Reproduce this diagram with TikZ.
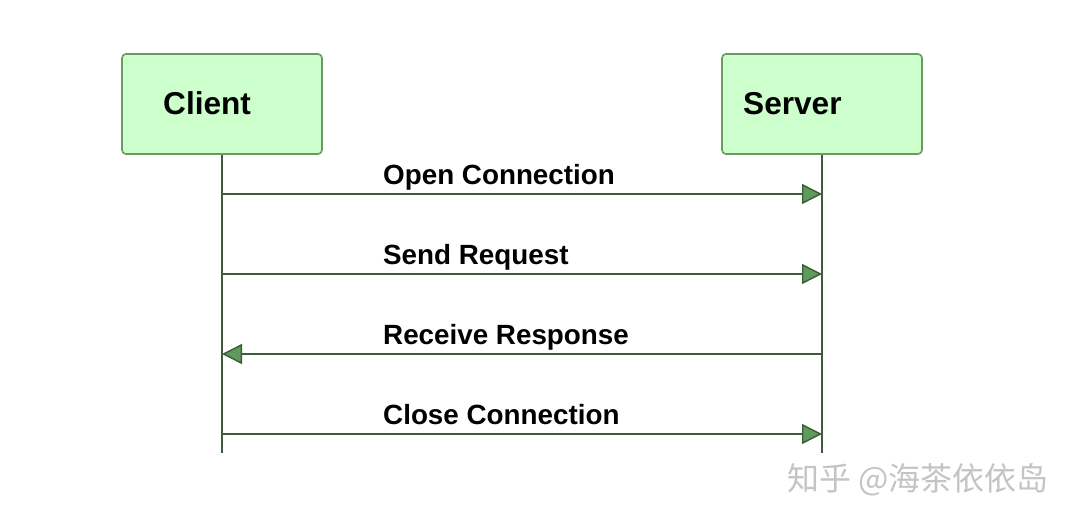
\documentclass[tikz,border=0pt]{standalone}
\usepackage{fontspec}
\setmainfont{Liberation Sans}
\newfontfamily\cjkfont{Noto Sans CJK SC}
\usetikzlibrary{arrows.meta}
\definecolor{boxfill}{HTML}{CCFFCC}
\definecolor{boxline}{HTML}{6A9A62}
\definecolor{lifeline}{HTML}{3B5E38}
\definecolor{tipfill}{HTML}{5E9A5A}
\definecolor{wmgray}{HTML}{C4C4C4}
\tikzset{
  actor/.style={draw=boxline, fill=boxfill, line width=1.6pt, rounded corners=4pt,
    minimum width=200pt, minimum height=100pt, inner sep=0pt},
  actorlabel/.style={font=\bfseries\fontsize{31.6}{32}\selectfont, anchor=base west, inner sep=0pt},
  lline/.style={draw=lifeline, line width=2pt},
  msg/.style={draw=lifeline, line width=1.8pt,
    -{Triangle[length=20pt,width=20pt,fill=tipfill,line width=1.4pt]}},
  msglabel/.style={font=\bfseries\fontsize{27.8}{28}\selectfont, anchor=base west, inner sep=0pt},
}
\begin{document}
\begin{tikzpicture}[x=1pt,y=-1pt]
\useasboundingbox[fill=white] (0,0) rectangle (1076,522);
% actors
\node[actor] (client) at (222,104) {};
\node[actor] (server) at (822,104) {};
\node[actorlabel] (clientlabel) at (163,114) {Client};
\node[actorlabel] (serverlabel) at (743,114) {Server};
% lifeline points
\coordinate (cend) at (222,453);
\coordinate (send) at (822,453);
\coordinate (c1) at (222,194); \coordinate (s1) at (822,194);
\coordinate (c2) at (222,274); \coordinate (s2) at (822,274);
\coordinate (c3) at (222,354); \coordinate (s3) at (822,354);
\coordinate (c4) at (222,434); \coordinate (s4) at (822,434);
\draw[lline] (client.south) -- (cend);
\draw[lline] (server.south) -- (send);
% messages
\draw[msg] (c1) -- (s1);
\draw[msg] (c2) -- (s2);
\draw[msg] (s3) -- (c3);
\draw[msg] (c4) -- (s4);
\node[msglabel] (l1) at (383,184) {Open Connection};
\node[msglabel] (l2) at (383,264) {Send Request};
\node[msglabel] (l3) at (383,344) {Receive Response};
\node[msglabel] (l4) at (383,424) {Close Connection};
% watermark
\node[anchor=base west, inner sep=0pt, text=wmgray, font=\cjkfont\fontsize{32}{32}\selectfont] (wm) at (787,490) {知乎 @海茶依依岛};
\end{tikzpicture}
\end{document}
